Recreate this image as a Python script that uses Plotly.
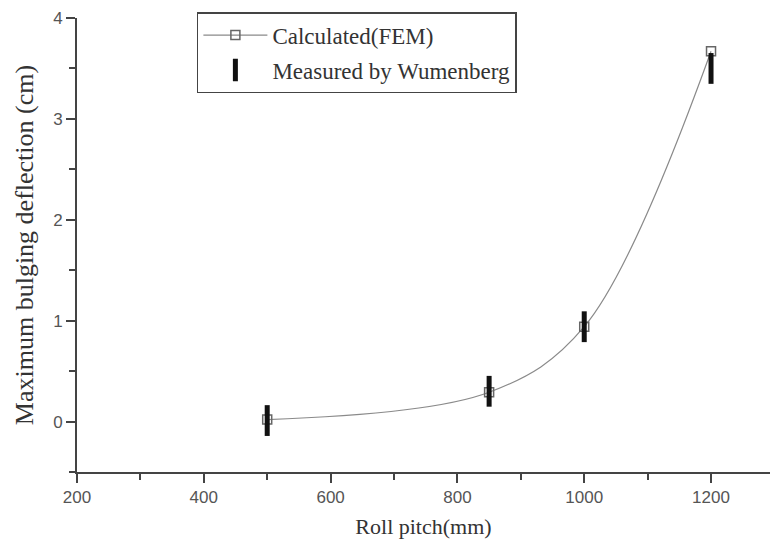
import plotly.graph_objects as go

# Data
roll_pitch = [500, 850, 1000, 1200]
fem_deflection = [0.02, 0.29, 0.94, 3.67]
measured_pitch = [500, 850, 1000, 1200]
measured_deflection = [0.01, 0.30, 0.94, 3.50]

x_ticks = [200, 400, 600, 800, 1000, 1200]
y_ticks = [0, 1, 2, 3, 4]

serif = "Liberation Serif, Times New Roman, serif"
sans = "Liberation Sans, Arial, sans-serif"

fig = go.Figure()

fig.add_trace(go.Scatter(
    x=roll_pitch, y=fem_deflection,
    mode="lines+markers",
    name="Calculated(FEM)",
    legendgroup="a",
    line=dict(color="#8a8a8a", width=1.2, shape="spline", smoothing=1.0),
    marker=dict(symbol="square-open", size=9, color="#666666", line=dict(width=1.5, color="#666666")),
))

fig.add_trace(go.Scatter(
    x=measured_pitch, y=measured_deflection,
    mode="markers",
    name="Measured by Wumenberg",
    legendgroup="b",
    marker=dict(symbol="line-ns", size=22, color="#111111", line=dict(width=5, color="#111111")),
))

fig.update_layout(
    width=770, height=551,
    margin=dict(l=77, r=0, t=18, b=79),
    paper_bgcolor="white", plot_bgcolor="white",
    showlegend=True,
    legend=dict(
        x=0.173, y=1.013, xanchor="left", yanchor="top",
        bordercolor="#444444", borderwidth=1.5,
        bgcolor="white",
        font=dict(family=serif, size=23, color="#333333"),
        tracegroupgap=2,
        itemwidth=64,
    ),
    xaxis=dict(
        range=[200, 1293],
        tickvals=x_ticks,
        ticks="outside", ticklen=9, tickwidth=1.5, tickcolor="#444444",
        minor=dict(dtick=100, tick0=200, ticks="outside", ticklen=6, tickwidth=1.5, tickcolor="#444444"),
        showline=True, linecolor="#444444", linewidth=2,
        showgrid=False, zeroline=False,
        tickfont=dict(family=sans, size=17, color="#555555"),
        title=dict(text="Roll pitch(mm)", font=dict(family=serif, size=22, color="#333333"), standoff=12),
    ),
    yaxis=dict(
        range=[-0.5, 4],
        tickvals=y_ticks,
        ticks="outside", ticklen=9, tickwidth=1.5, tickcolor="#444444",
        minor=dict(dtick=0.5, tick0=0, ticks="outside", ticklen=6, tickwidth=1.5, tickcolor="#444444"),
        showline=True, linecolor="#444444", linewidth=2,
        showgrid=False, zeroline=False,
        tickfont=dict(family=sans, size=17, color="#555555"),
        title=dict(text="Maximum bulging deflection (cm)", font=dict(family=serif, size=26, color="#333333"), standoff=12),
    ),
)

fig.write_html("out.html")
